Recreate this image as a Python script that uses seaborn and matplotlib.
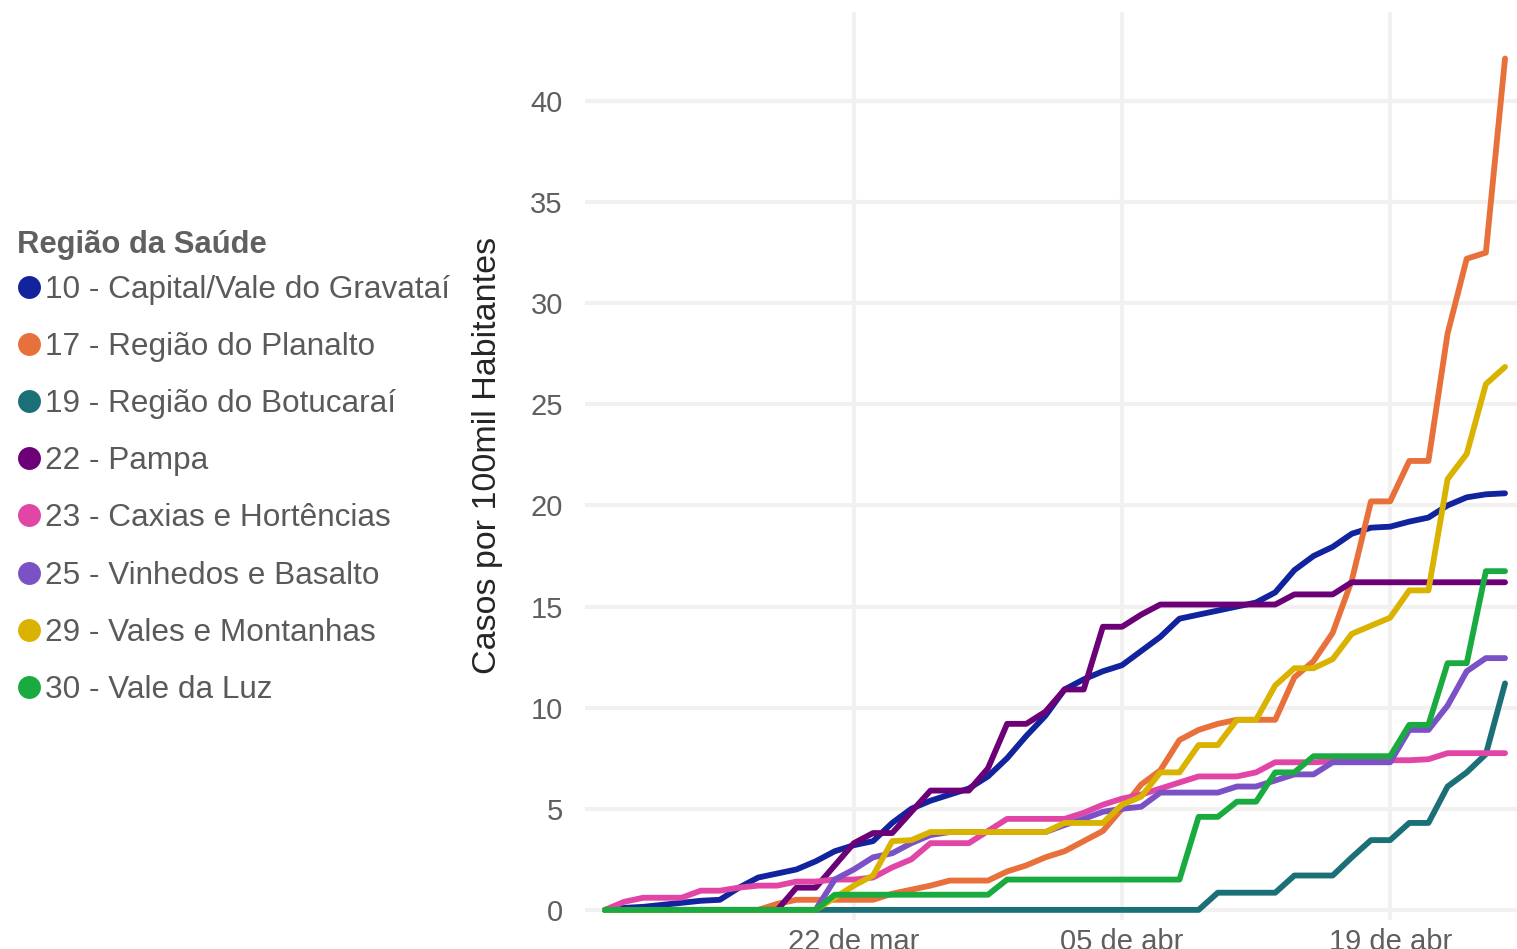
"""
Casos por 100mil habitantes por Região da Saúde (RS)
"""

import pandas as pd
import numpy as np
import matplotlib
matplotlib.use("Agg")
import matplotlib.pyplot as plt
from matplotlib.lines import Line2D
import seaborn as sns

# Dados (casos por 100mil habitantes, diários)
datas = pd.date_range("2020-03-09", "2020-04-25", freq="D")

regioes = [
    "10 - Capital/Vale do Gravataí",
    "17 - Região do Planalto",
    "19 - Região do Botucaraí",
    "22 - Pampa",
    "23 - Caxias e Hortências",
    "25 - Vinhedos e Basalto",
    "29 - Vales e Montanhas",
    "30 - Vale da Luz",
]

cores = ["#12239e", "#e8703a", "#1b7078", "#6b0077",
         "#e146a6", "#7a52c6", "#d9b300", "#1aab40"]

capital = [0, 0.1, 0.15, 0.25, 0.35, 0.45, 0.5, 1.1, 1.6, 1.8,
           2.0, 2.4, 2.9, 3.2, 3.4, 4.3, 5.0, 5.4, 5.7, 6.0,
           6.6, 7.5, 8.6, 9.6, 10.9, 11.4, 11.8, 12.1, 12.8, 13.5,
           14.4, 14.6, 14.8, 15.0, 15.2, 15.7, 16.8, 17.5, 17.95, 18.6,
           18.9, 18.95, 19.2, 19.4, 20.0, 20.4, 20.55, 20.6]

planalto = [0, 0, 0, 0, 0, 0, 0, 0, 0, 0.3,
            0.5, 0.5, 0.5, 0.5, 0.5, 0.8, 1.0, 1.2, 1.45, 1.45,
            1.45, 1.9, 2.2, 2.6, 2.9, 3.4, 3.9, 5.0, 6.2, 6.9,
            8.4, 8.9, 9.2, 9.4, 9.4, 9.4, 11.5, 12.3, 13.7, 16.3,
            20.2, 20.2, 22.2, 22.2, 28.5, 32.2, 32.5, 42.1]

botucarai = [0] * 32 + [0.85, 0.85, 0.85, 0.85, 1.7, 1.7, 1.7, 2.6,
                        3.45, 3.45, 4.3, 4.3, 6.1, 6.8, 7.7, 11.2]

pampa = [0, 0, 0, 0, 0, 0, 0, 0, 0, 0,
         1.1, 1.1, 2.2, 3.3, 3.8, 3.8, 4.85, 5.9, 5.9, 5.9,
         7.0, 9.2, 9.2, 9.8, 10.9, 10.9, 14.0, 14.0, 14.6, 15.1,
         15.1, 15.1, 15.1, 15.1, 15.1, 15.1, 15.6, 15.6, 15.6, 16.2,
         16.2, 16.2, 16.2, 16.2, 16.2, 16.2, 16.2, 16.2]

caxias = [0, 0.4, 0.6, 0.6, 0.6, 0.95, 0.95, 1.1, 1.2, 1.2,
          1.4, 1.4, 1.5, 1.5, 1.6, 2.1, 2.5, 3.3, 3.3, 3.3,
          3.9, 4.5, 4.5, 4.5, 4.5, 4.8, 5.2, 5.5, 5.7, 6.0,
          6.3, 6.6, 6.6, 6.6, 6.8, 7.3, 7.3, 7.3, 7.35, 7.35,
          7.4, 7.4, 7.4, 7.45, 7.75, 7.75, 7.75, 7.75]

vinhedos = [0] * 12 + [1.5, 2.0, 2.6, 2.8, 3.3, 3.7, 3.85, 3.85,
                       3.85, 3.85, 3.85, 3.85, 4.2, 4.5, 4.85, 5.0, 5.1, 5.8,
                       5.8, 5.8, 5.8, 6.1, 6.1, 6.4, 6.7, 6.7, 7.3, 7.3,
                       7.3, 7.3, 8.9, 8.9, 10.1, 11.8, 12.45, 12.45]

montanhas = [0] * 12 + [0.6, 1.2, 1.7, 3.4, 3.45, 3.85, 3.85, 3.85,
                        3.85, 3.85, 3.85, 3.85, 4.3, 4.3, 4.3, 5.2, 5.6, 6.8,
                        6.8, 8.15, 8.15, 9.4, 9.4, 11.1, 11.95, 11.95, 12.4, 13.65,
                        14.05, 14.45, 15.8, 15.8, 21.3, 22.55, 26.0, 26.85]

vale_luz = [0] * 12 + [0.75] * 9 + [1.5] * 10 + [4.6, 4.6, 5.35, 5.35, 6.8, 6.8,
                                                  7.6, 7.6, 7.6, 7.6, 7.6, 9.15, 9.15,
                                                  12.2, 12.2, 16.75, 16.75]

ticks_datas = ["2020-03-22", "2020-04-05", "2020-04-19"]
ticks_rotulos = ["22 de mar", "05 de abr", "19 de abr"]
ticks_y = [0, 5, 10, 15, 20, 25, 30, 35, 40]

series = [capital, planalto, botucarai, pampa, caxias, vinhedos, montanhas, vale_luz]

df = pd.concat(
    [pd.DataFrame({"Data": datas, "Casos": s, "Região": r}) for r, s in zip(regioes, series)],
    ignore_index=True,
)

sns.set_theme(style="white")
plt.rcParams["font.family"] = ["Liberation Sans", "DejaVu Sans"]

fig = plt.figure(figsize=(15.17, 9.49), dpi=100)
ax = fig.add_axes([585 / 1517, 1 - 920 / 949, 1 - 585 / 1517, (920 - 12) / 949])

sns.lineplot(
    data=df,
    x="Data",
    y="Casos",
    hue="Região",
    hue_order=regioes,
    palette=dict(zip(regioes, cores)),
    linewidth=4.2,
    legend=False,
    ax=ax,
)
for linha in ax.get_lines():
    linha.set_solid_capstyle("round")
    linha.set_solid_joinstyle("round")

# Eixos e grade
ax.set_xlim(datas[0] - pd.Timedelta(hours=25), datas[-1] + pd.Timedelta(hours=15))
ax.set_ylim(-0.5, 44.4)
ax.set_xticks(pd.to_datetime(ticks_datas))
ax.set_xticklabels(ticks_rotulos)
ax.set_yticks(ticks_y)
ax.set_yticklabels([str(v) for v in ticks_y])
ax.grid(True, color="#f2f1ef", linewidth=3)
ax.set_axisbelow(True)
for lado in ax.spines.values():
    lado.set_visible(False)
ax.tick_params(axis="both", length=0, labelsize=21, labelcolor="#5f5f5f")
ax.tick_params(axis="x", pad=6)
ax.tick_params(axis="y", pad=16)
ax.set_xlabel("")
ax.set_ylabel("Casos por 100mil Habitantes", fontsize=24.5, color="#252525")
ax.yaxis.set_label_coords(-0.0876, 0.512)

# Legenda
fig.text(17 / 1517, 1 - 245 / 949, "Região da Saúde", fontsize=22.3,
         fontweight="bold", color="#606060", va="center", ha="left")

handles = [
    Line2D([], [], linestyle="", marker="o", markersize=16.5, color=c, markeredgewidth=0)
    for c in cores
]
leg = fig.legend(
    handles,
    regioes,
    loc="upper left",
    bbox_to_anchor=(16.4 / 1517, 1 - 275 / 949),
    frameon=False,
    fontsize=22.7,
    handlelength=0.8,
    handletextpad=0.12,
    labelspacing=0.86,
    borderaxespad=0,
    borderpad=0,
)
for t in leg.get_texts():
    t.set_color("#5a5a5a")

fig.savefig("out.png", dpi=100)
